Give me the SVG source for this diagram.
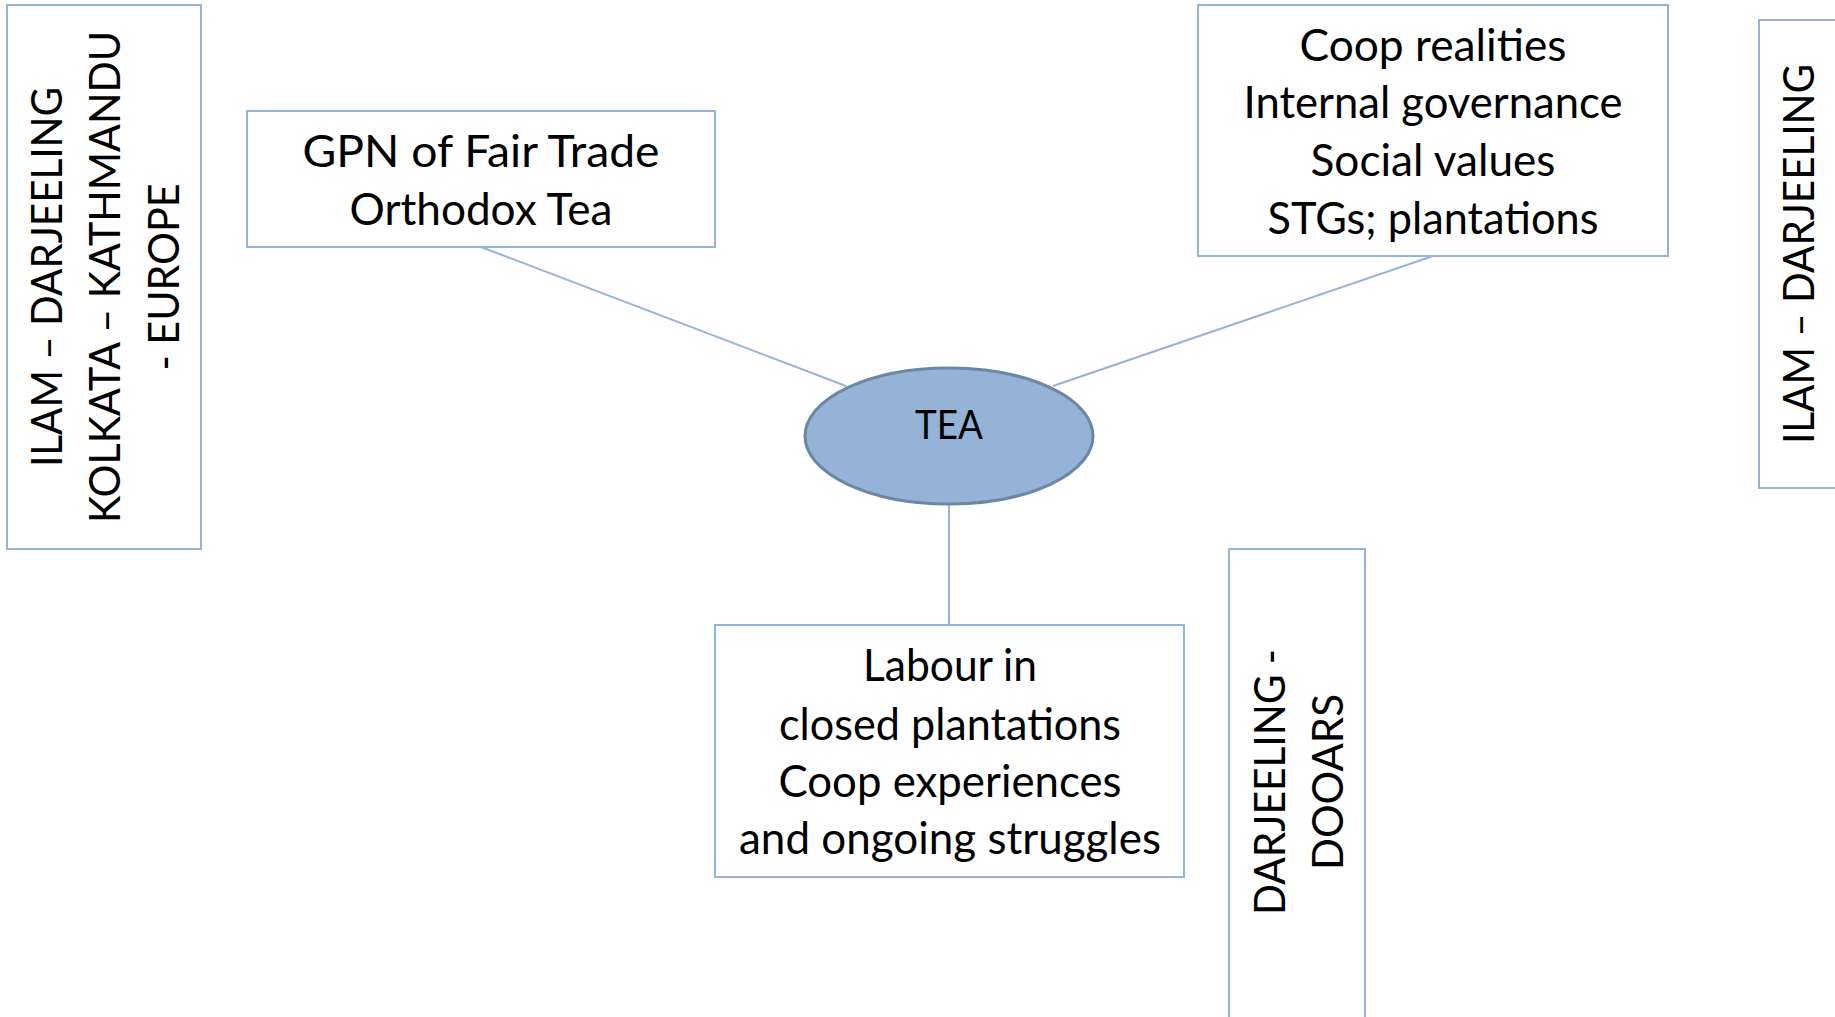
<svg xmlns="http://www.w3.org/2000/svg" width="1835" height="1017" viewBox="0 0 1835 1017">
<style>
.box{fill:#ffffff;stroke:#95b3d7;stroke-width:2}
.t{font-family:Lato,"Liberation Sans",sans-serif;font-size:44px;fill:#000000;text-anchor:middle}
.u{font-size:42px}
.c{stroke:#95b3d7;stroke-width:2;fill:none}
</style>
<rect width="1835" height="1017" fill="#ffffff"/>
<g id="connectors">
<line class="c" x1="481" y1="247" x2="846" y2="386"/>
<line class="c" x1="1433" y1="256" x2="1053" y2="386"/>
<line class="c" x1="949" y1="504" x2="949" y2="625"/>
</g>
<g id="node-left">
<rect class="box" x="7" y="5" width="194" height="544"/>
<g transform="translate(0,277) rotate(-90)">
<text class="t u" x="0" y="62" textLength="380" lengthAdjust="spacingAndGlyphs">ILAM – DARJEELING</text>
<text class="t u" x="0" y="120" textLength="492" lengthAdjust="spacingAndGlyphs">KOLKATA – KATHMANDU</text>
<text class="t u" x="0" y="179" textLength="187" lengthAdjust="spacingAndGlyphs">- EUROPE</text>
</g>
</g>
<g id="node-gpn">
<rect class="box" x="247" y="111" width="468" height="136"/>
<text class="t" x="481" y="167" textLength="357" lengthAdjust="spacingAndGlyphs">GPN of Fair Trade</text>
<text class="t" x="481" y="225" textLength="263" lengthAdjust="spacingAndGlyphs">Orthodox Tea</text>
</g>
<g id="node-coop">
<rect class="box" x="1198" y="5" width="470" height="251"/>
<text class="t" x="1433" y="61" textLength="267" lengthAdjust="spacingAndGlyphs">Coop realities</text>
<text class="t" x="1433" y="118" textLength="379" lengthAdjust="spacingAndGlyphs">Internal governance</text>
<text class="t" x="1433" y="176" textLength="245" lengthAdjust="spacingAndGlyphs">Social values</text>
<text class="t" x="1433" y="234" textLength="331" lengthAdjust="spacingAndGlyphs">STGs; plantations</text>
</g>
<g id="node-tea">
<ellipse cx="949" cy="436" rx="144" ry="68" fill="#95b3d7" stroke="#6c87a3" stroke-width="3"/>
<text class="t" x="949" y="439" style="font-size:41px" textLength="68" lengthAdjust="spacingAndGlyphs">TEA</text>
</g>
<g id="node-labour">
<rect class="box" x="715" y="625" width="469" height="252"/>
<text class="t" x="950" y="681" textLength="174" lengthAdjust="spacingAndGlyphs">Labour in</text>
<text class="t" x="950" y="740" textLength="342" lengthAdjust="spacingAndGlyphs">closed plantations</text>
<text class="t" x="950" y="797" textLength="343" lengthAdjust="spacingAndGlyphs">Coop experiences</text>
<text class="t" x="950" y="854" textLength="422" lengthAdjust="spacingAndGlyphs">and ongoing struggles</text>
</g>
<g id="node-dooars">
<rect class="box" x="1229" y="549" width="136" height="480"/>
<g transform="translate(0,782) rotate(-90)">
<text class="t u" x="0" y="1285" textLength="266" lengthAdjust="spacingAndGlyphs">DARJEELING -</text>
<text class="t u" x="0" y="1343" textLength="176" lengthAdjust="spacingAndGlyphs">DOOARS</text>
</g>
</g>
<g id="node-right">
<rect class="box" x="1759" y="20" width="90" height="468"/>
<g transform="translate(0,254) rotate(-90)">
<text class="t u" x="0" y="1814" textLength="380" lengthAdjust="spacingAndGlyphs">ILAM – DARJEELING</text>
</g>
</g>
</svg>
